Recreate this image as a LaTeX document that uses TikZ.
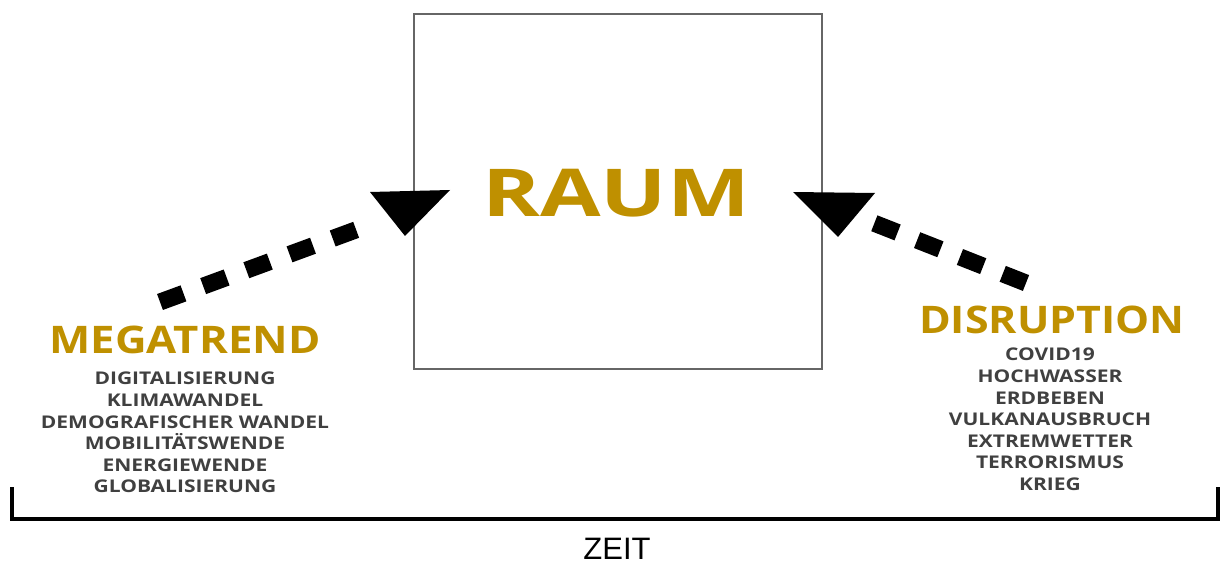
\documentclass[tikz,border=0pt]{standalone}
\usepackage{fontspec}
\setmainfont{Open Sans}
\newfontfamily\zeitfont{Liberation Sans}
\definecolor{gold}{RGB}{191,144,0}
\definecolor{txtgray}{RGB}{64,64,64}
\newcommand{\wide}[2]{\scalebox{#1}[1]{#2}}
\newcommand{\itm}[1]{\wide{1.2}{#1}}
\begin{document}
\begin{tikzpicture}[x=1pt,y=-1pt,
  title/.style={font=\bfseries\fontsize{38}{40}\selectfont, text=gold, inner sep=0pt},
  itemlist/.style={font=\bfseries\fontsize{17.5}{21.6}\selectfont, text=txtgray, align=center, inner sep=0pt},
  dotline/.style={line width=17pt, dash pattern=on 25pt off 21pt},
  head/.style={fill=black}]
\useasboundingbox (0,0) rectangle (1221,564);
\node[draw=black!60, line width=1.6pt, minimum width=408pt, minimum height=355pt, anchor=north west] (raum) at (413,13) {};
\node[font=\bfseries\fontsize{66}{70}\selectfont, text=gold, inner sep=0pt] (raumtxt) at (616,193) {\wide{1.33}{RAUM}};
\node[title] (mega) at (185,340) {\wide{1.15}{MEGATREND}};
\node[itemlist, anchor=north] (megalist) at (185,372) {\itm{DIGITALISIERUNG}\\\itm{KLIMAWANDEL}\\\itm{DEMOGRAFISCHER WANDEL}\\\itm{MOBILITÄTSWENDE}\\\itm{ENERGIEWENDE}\\\itm{GLOBALISIERUNG}};
\node[title] (disr) at (1052,320) {\wide{1.13}{DISRUPTION}};
\node[itemlist, anchor=north] (disrlist) at (1050,348) {\itm{COVID19}\\\itm{HOCHWASSER}\\\itm{ERDBEBEN}\\\itm{VULKANAUSBRUCH}\\\itm{EXTREMWETTER}\\\itm{TERRORISMUS}\\\itm{KRIEG}};
% left arrow
\coordinate (la) at (160,302);
\coordinate (lb) at (372,224);
\draw[dotline] (la) -- (lb);
\coordinate (lh1) at (370,192);
\coordinate (lh2) at (450,190);
\coordinate (lh3) at (405,236);
\fill[head] (lh1) -- (lh2) -- (lh3) -- cycle;
% right arrow
\coordinate (ra) at (1026,283);
\coordinate (rb) at (866,220);
\draw[dotline] (ra) -- (rb);
\coordinate (rh1) at (793,192);
\coordinate (rh2) at (875,193);
\coordinate (rh3) at (838,237);
\fill[head] (rh1) -- (rh2) -- (rh3) -- cycle;
% bracket
\coordinate (b1) at (12,487);
\coordinate (b2) at (12,519);
\coordinate (b3) at (1218,519);
\coordinate (b4) at (1218,487);
\draw[line width=4pt, line join=miter] (b1) -- (b2) -- (b3) -- (b4);
\node[font=\zeitfont\fontsize{31}{33}\selectfont, inner sep=0pt] (zeit) at (617,549) {ZEIT};
\end{tikzpicture}
\end{document}
